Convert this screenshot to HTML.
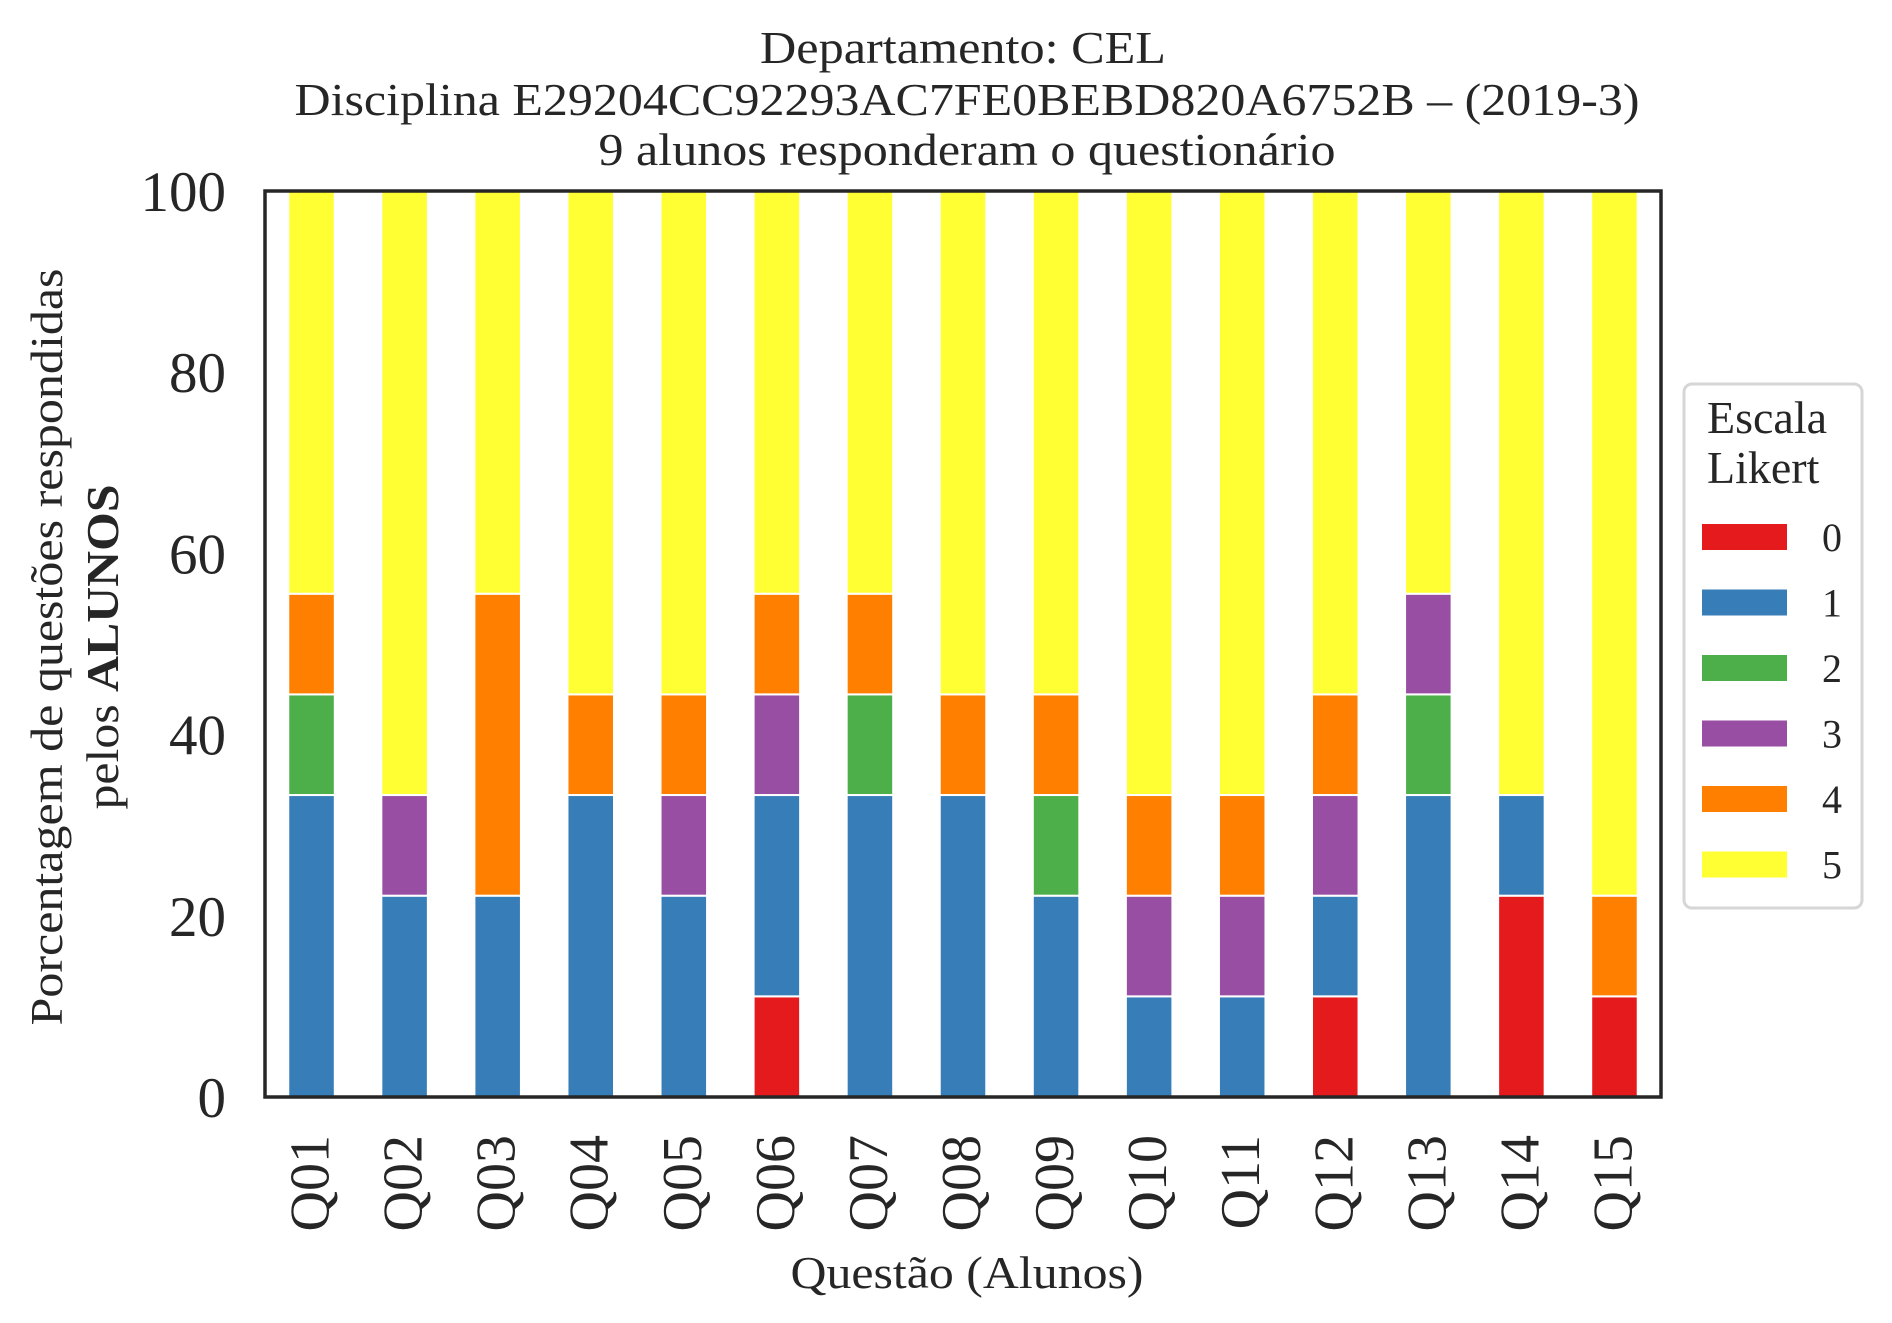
<!DOCTYPE html>
<html><head><meta charset="utf-8"><style>
body{margin:0;background:#fff}
svg{display:block;font-family:"Liberation Serif",serif;fill:#262626}
</style></head><body>
<svg id="chart" width="1892" height="1323" viewBox="0 0 1892 1323" xmlns="http://www.w3.org/2000/svg">
<rect width="1892" height="1323" fill="#fff"/>
<g text-anchor="middle" font-size="46">
<text x="963" y="63" textLength="406" lengthAdjust="spacingAndGlyphs">Departamento: CEL</text>
<text x="967" y="115" textLength="1345" lengthAdjust="spacingAndGlyphs">Disciplina E29204CC92293AC7FE0BEBD820A6752B – (2019-3)</text>
<text x="967" y="165" textLength="737" lengthAdjust="spacingAndGlyphs">9 alunos responderam o questionário</text>
</g>
<g id="bars"></g>
<g id="yticks"></g>
<g id="xticks"></g>
<rect x="265" y="191" width="1396" height="906" fill="none" stroke="#262626" stroke-width="3.5"/>
<text x="967" y="1288" text-anchor="middle" font-size="46" textLength="353" lengthAdjust="spacingAndGlyphs">Questão (Alunos)</text>
<g font-size="46" text-anchor="middle">
<text transform="translate(62,647) rotate(-90)" textLength="757" lengthAdjust="spacingAndGlyphs">Porcentagem de questões respondidas</text>
<text transform="translate(118,647) rotate(-90)" textLength="325" lengthAdjust="spacingAndGlyphs">pelos <tspan font-weight="bold">ALUNOS</tspan></text>
</g>
<g id="legend">
<rect x="1684" y="384" width="178" height="524" rx="8" fill="#fff" stroke="#d6d6d6" stroke-width="3"/>
<text x="1707" y="433" font-size="46">Escala</text>
<text x="1707" y="483" font-size="46">Likert</text>
</g>
</svg>
<script>
const categories = ["Q01","Q02","Q03","Q04","Q05","Q06","Q07","Q08","Q09","Q10","Q11","Q12","Q13","Q14","Q15"];
const seriesNames = ["0","1","2","3","4","5"];
const s0 = [0,0,0,0,0,11.11,0,0,0,0,0,11.11,0,22.22,11.11];
const s1 = [33.33,22.22,22.22,33.33,22.22,22.22,33.33,33.33,22.22,11.11,11.11,11.11,33.33,11.11,0];
const s2 = [11.11,0,0,0,0,0,11.11,0,11.11,0,0,0,11.11,0,0];
const s3 = [0,11.11,0,0,11.11,11.11,0,0,0,11.11,11.11,11.11,11.11,0,0];
const s4 = [11.11,0,33.33,11.11,11.11,11.11,11.11,11.11,11.11,11.11,11.11,11.11,0,0,11.11];
const s5 = [44.44,66.67,44.44,55.56,55.56,44.44,44.44,55.56,55.56,66.67,66.67,55.56,44.44,66.67,77.78];
const yTicks = [0,20,40,60,80,100];
const colors = ["#e41a1c","#377eb8","#4daf4a","#984ea3","#ff7f00","#ffff33"];
const series = [s0,s1,s2,s3,s4,s5];
const NS="http://www.w3.org/2000/svg";
const X0=265,X1=1661,Y0=1097,Y1=191;
const step=(X1-X0)/categories.length;
const xc=i=>X0+step*(i+0.5);
const y=v=>Y0-(v/100)*(Y0-Y1);
const bars=document.getElementById('bars');
categories.forEach((c,i)=>{
  let acc=0;
  series.forEach((s,k)=>{
    const v=s[i]; if(v<=0) return;
    const r=document.createElementNS(NS,'rect');
    r.setAttribute('x',xc(i)-step*0.25);
    r.setAttribute('width',step*0.5);
    r.setAttribute('y',y(acc+v));
    r.setAttribute('height',y(acc)-y(acc+v));
    r.setAttribute('fill',colors[k]);
    r.setAttribute('stroke','#fff');
    r.setAttribute('stroke-width','2');
    
    
    bars.appendChild(r);
    acc+=v;
  });
});
const yt=document.getElementById('yticks');
yTicks.forEach(t=>{
  const e=document.createElementNS(NS,'text');
  e.setAttribute('x',226);e.setAttribute('y',y(t)+20);
  e.setAttribute('text-anchor','end');e.setAttribute('font-size','57');
  e.textContent=t;
  
  
  yt.appendChild(e);
});
const xt=document.getElementById('xticks');
categories.forEach((c,i)=>{
  const e=document.createElementNS(NS,'text');
  e.setAttribute('transform','translate('+(xc(i)+17)+',1135) rotate(-90)');
  e.setAttribute('text-anchor','end');e.setAttribute('font-size','56');
  e.textContent=c;
  
  
  xt.appendChild(e);
});
const lg=document.getElementById('legend');
seriesNames.forEach((n,k)=>{
  const cy=537+k*65.5;
  const r=document.createElementNS(NS,'rect');
  r.setAttribute('x',1702);r.setAttribute('y',cy-13);
  r.setAttribute('width',85);r.setAttribute('height',26);
  r.setAttribute('fill',colors[k]);
  
  
  lg.appendChild(r);
  const t=document.createElementNS(NS,'text');
  t.setAttribute('x',1822);t.setAttribute('y',cy+14);
  t.setAttribute('font-size','40');
  t.textContent=n;
  
  
  lg.appendChild(t);
});
</script>
</body></html>
